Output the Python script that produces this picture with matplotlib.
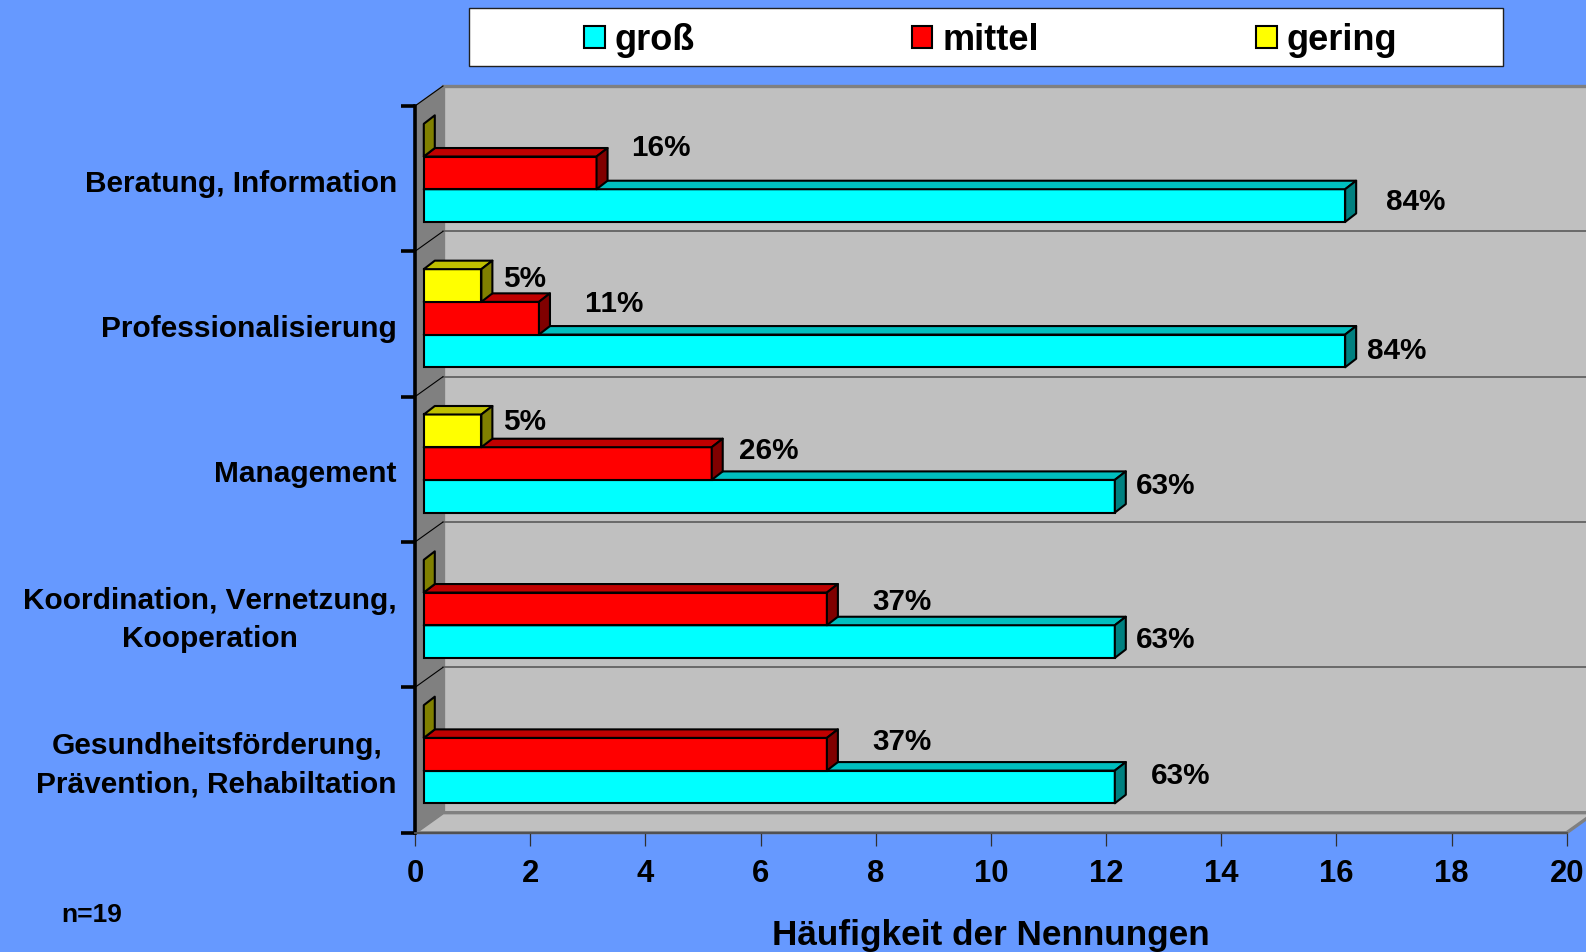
import matplotlib
matplotlib.use("Agg")
import matplotlib.pyplot as plt
from matplotlib.patches import Polygon, Rectangle, Patch

W, H = 1586, 952
plt.rcParams['font.family'] = ['Liberation Sans', 'DejaVu Sans']
plt.rcParams['font.weight'] = 'bold'
plt.rcParams['text.kerning_factor'] = 6

# Data (bottom to top)
categories = ["Gesundheitsförderung,\nPrävention, Rehabiltation",
              "Koordination, Vernetzung,\nKooperation",
              "Management", "Professionalisierung", "Beratung, Information"]
gross = [12, 12, 12, 16, 16]
mittel = [7, 7, 5, 2, 3]
gering = [0, 0, 1, 1, 0]
gross_pct = ["63%", "63%", "63%", "84%", "84%"]
mittel_pct = ["37%", "37%", "26%", "11%", "16%"]
gering_pct = ["", "", "5%", "5%", ""]
x_ticks = list(range(0, 21, 2))

# Label offsets in pixels from bar end / bar centre (manually placed in the original)
gross_off = [(66, -11), (51, -2), (51, -10), (52, 0), (71, -4)]
mittel_off = [(75, -12), (75, -7), (57, -13), (75, -14), (64, -25)]
gering_off = [None, None, (43, -9), (43, -7), None]

fig = plt.figure(figsize=(W / 100, H / 100), dpi=100, facecolor="#6699FF")
L, R, T, B = 415, 1566.7, 106, 832.7
ax = fig.add_axes([L / W, 1 - B / H, (R - L) / W, (B - T) / H])
ax.set_facecolor("none")
ax.set_xlim(0, 20)
ax.set_ylim(0, 5)

sx = (R - L) / 20
sy = (B - T) / 5
wall_dx, wall_dy = 28 / sx, 20 / sy
bar_dx, bar_dy = 8.8 / sx, 5.8 / sy
depth_x, depth_y = 11 / sx, 8.5 / sy
bar_h = 32.7 / sy

GREY, WALL = "#808080", "#C0C0C0"
# walls and floor
ax.add_patch(Rectangle((wall_dx, wall_dy), 21, 5, fc=WALL, ec=GREY, lw=2.4, zorder=1, clip_on=False))
ax.add_patch(Polygon([(0, 0), (20, 0), (20 + wall_dx, wall_dy), (21, wall_dy), (wall_dx, wall_dy)],
                     fc=WALL, ec=GREY, lw=2.4, zorder=1.1, clip_on=False))
ax.add_patch(Polygon([(0, 0), (0, 5), (wall_dx, 5 + wall_dy), (wall_dx, wall_dy)],
                     fc=GREY, ec=GREY, lw=1, zorder=1.2, clip_on=False))
# gridlines
for k in range(1, 5):
    ax.plot([wall_dx, 21], [k + wall_dy] * 2, color="#5A5A5A", lw=1.2, zorder=1.3, clip_on=False)
    ax.plot([0, wall_dx], [k, k + wall_dy], color="black", lw=0.8, zorder=1.3, clip_on=False)
ax.plot([0, wall_dx], [5, 5 + wall_dy], color="black", lw=0.8, zorder=1.3, clip_on=False)


def draw_series(values, slot, front, top, side):
    for i, v in enumerate(values):
        yc = i + 0.5 + bar_dy + slot * bar_h
        y0, y1 = yc - bar_h / 2, yc + bar_h / 2
        x0, x1 = bar_dx, bar_dx + v
        kw = dict(ec="black", lw=1.5, zorder=3, joinstyle="round")
        if v > 0:
            ax.barh(yc, v, height=bar_h, left=bar_dx, color=front, edgecolor="black",
                    linewidth=1.5, zorder=3)
            ax.add_patch(Polygon([(x0, y1), (x1, y1), (x1 + depth_x, y1 + depth_y),
                                  (x0 + depth_x, y1 + depth_y)], fc=top, **kw))
        ax.add_patch(Polygon([(x1, y0), (x1 + depth_x, y0 + depth_y),
                              (x1 + depth_x, y1 + depth_y), (x1, y1)], fc=side, **kw))


def draw_labels(values, labels, offsets, slot):
    for i, (v, t, o) in enumerate(zip(values, labels, offsets)):
        if not t:
            continue
        yc = i + 0.5 + bar_dy + slot * bar_h
        ax.annotate(t, xy=(bar_dx + v, yc), xytext=(o[0] * 0.72, -o[1] * 0.72),
                    textcoords="offset points", ha="center", va="center",
                    fontsize=21.3, fontweight="bold", color="black", zorder=5)


draw_series(gross, -1, "#00FFFF", "#00BFBF", "#008080")
draw_series(mittel, 0, "#FF0000", "#C00000", "#800000")
draw_series(gering, 1, "#FFFF00", "#BFBF00", "#808000")
draw_labels(gross, gross_pct, gross_off, -1)
draw_labels(mittel, mittel_pct, mittel_off, 0)
draw_labels(gering, gering_pct, gering_off, 1)

# axes
for s in ("top", "right"):
    ax.spines[s].set_visible(False)
ax.spines["left"].set_linewidth(2.6)
ax.spines["left"].set_color("black")
ax.spines["bottom"].set_linewidth(1.4)
ax.spines["bottom"].set_color("#505050")
ax.set_xticks(x_ticks)
ax.set_xticklabels([str(t) for t in x_ticks], fontsize=22.3, fontweight="bold")
ax.tick_params(axis="x", length=9, width=0.9, color="#303030", pad=10.2)
ax.set_yticks(range(0, 6))
ax.set_yticklabels([])
ax.tick_params(axis="y", which="major", length=10, width=2.6, color="black")
ax.set_yticks([i + 0.5 for i in range(5)], minor=True)
ax.set_yticklabels(categories, minor=True, fontsize=21.5, fontweight="bold", linespacing=1.47)
ax.tick_params(axis="y", which="minor", length=0, pad=13)
for lab in ax.get_yticklabels(minor=True):
    lab.set_multialignment("center")
    lab.set_verticalalignment("center")
    # text centres sit slightly below the category centre in the original
    lab.set_transform(lab.get_transform() + matplotlib.transforms.Affine2D().translate(0, -5))
ax.set_xlabel("Häufigkeit der Nennungen", fontsize=25.3, fontweight="bold", va="center")
ax.xaxis.set_label_coords(0.5, -(935.5 - B) / (B - T))

# legend box + legend
fig.add_artist(Rectangle((469 / W, 1 - 66 / H), (1503 - 469) / W, 58 / H, fc="white", ec="#202020",
                         lw=1.0, transform=fig.transFigure))
handles = [Patch(fc=c, ec="black", lw=1.5) for c in ("#00FFFF", "#FF0000", "#FFFF00")]
fig.legend(handles, ["groß", "mittel", "gering"], ncol=3, frameon=False, loc="center",
           bbox_to_anchor=(990.5 / W, 1 - 40 / H), bbox_transform=fig.transFigure,
           prop=dict(family="Liberation Sans", weight="bold", size=26),
           handlelength=0.58, handleheight=0.58, handletextpad=0.28, columnspacing=6.0,
           borderpad=0, borderaxespad=0)

fig.text(61 / W, 1 - 915.5 / H, "n=19", fontsize=19, fontweight="bold", ha="left", va="center")
fig.savefig("out.png", dpi=100, facecolor=fig.get_facecolor())
